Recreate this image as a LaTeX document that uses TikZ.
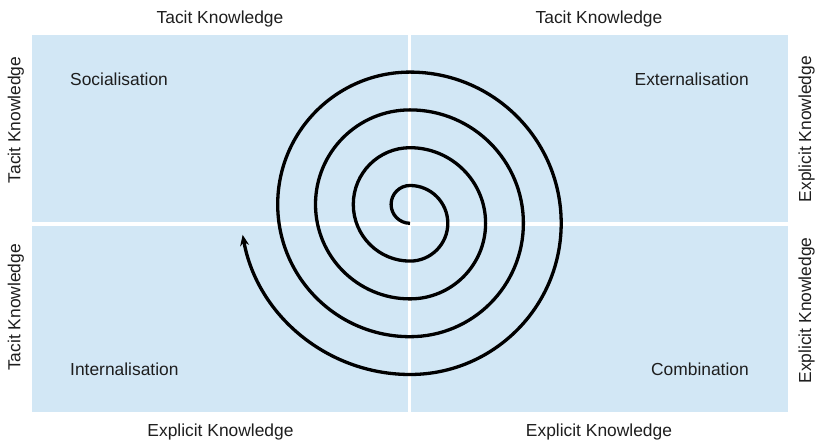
\documentclass[tikz,border=0pt]{standalone}
\usepackage{fontspec}
\setmainfont{Liberation Sans}
\usepackage{tikz}
\usetikzlibrary{arrows.meta}
\definecolor{kmblue}{HTML}{D2E7F5}
\definecolor{kmtext}{HTML}{1E1E1E}

\begin{document}
\begin{tikzpicture}[x=1pt,y=1pt,
  quad/.style={fill=kmblue,draw=none,inner sep=0pt,anchor=south west},
  lab/.style={font=\fontsize{17.4}{20}\selectfont,text=kmtext,inner sep=0pt,anchor=base},
  side/.style={lab,rotate=90},
  spiral/.style={line width=3.3pt,-{Stealth[length=11pt,width=9pt]}}]
  \useasboundingbox (0,0) rectangle (815,441);
  % the four modes
  \node[quad,minimum width=376pt,minimum height=187pt] (soc) at (32,219) {};
  \node[quad,minimum width=377pt,minimum height=187pt] (ext) at (411,219) {};
  \node[quad,minimum width=376pt,minimum height=186pt] (int) at (32,29) {};
  \node[quad,minimum width=377pt,minimum height=186pt] (comb) at (411,29) {};
  \node[lab,anchor=base west] (soctxt) at (70,355) {Socialisation};
  \node[lab,anchor=base east] (exttxt) at (749,355) {Externalisation};
  \node[lab,anchor=base west] (inttxt) at (70,65.3) {Internalisation};
  \node[lab,anchor=base east] (combtxt) at (749,65.3) {Combination};
  % knowledge types round the edge
  \node[lab] (topl) at (220,417) {Tacit Knowledge};
  \node[lab] (topr) at (599,417) {Tacit Knowledge};
  \node[lab] (botl) at (220.5,4.7) {Explicit Knowledge};
  \node[lab] (botr) at (599,4.7) {Explicit Knowledge};
  \node[side] (lefta) at (20.5,321) {Tacit Knowledge};
  \node[side] (leftb) at (20.5,133.5) {Tacit Knowledge};
  \node[side] (righta) at (811,312) {Explicit Knowledge};
  \node[side] (rightb) at (811,130.5) {Explicit Knowledge};
  % the spiral
  \coordinate (ctr) at (410,217.7);
  \draw[spiral] (ctr)
    arc[start angle=-90,end angle=-270,radius=18.9]
    arc[start angle=90,end angle=-90,radius=37.8]
    arc[start angle=-90,end angle=-270,radius=56.7]
    arc[start angle=90,end angle=-90,radius=75.6]
    arc[start angle=-90,end angle=-270,radius=94.5]
    arc[start angle=90,end angle=-90,radius=113.4]
    arc[start angle=-90,end angle=-270,radius=132.3]
    arc[start angle=90,end angle=-90,radius=151.2]
    arc[start angle=-90,end angle=-169.7,radius=170.1];
\end{tikzpicture}
\end{document}
